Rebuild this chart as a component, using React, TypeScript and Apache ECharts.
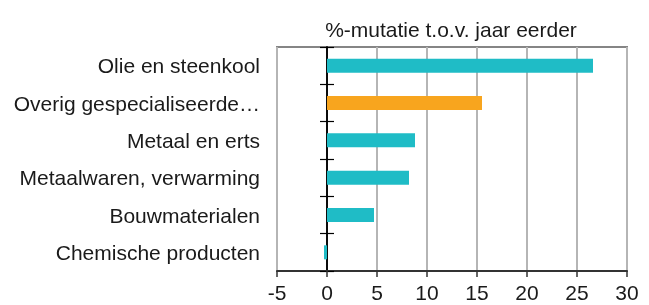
import React, { useEffect, useRef } from "react";
import * as echarts from "echarts";

const categories = [
  "Olie en steenkool",
  "Overig gespecialiseerde…",
  "Metaal en erts",
  "Metaalwaren, verwarming",
  "Bouwmaterialen",
  "Chemische producten",
];
const values = [26.6, 15.5, 8.8, 8.2, 4.7, -0.3];
const barColors = ["#1fbcc6", "#f8a51e", "#1fbcc6", "#1fbcc6", "#1fbcc6", "#1fbcc6"];
const subtitle = "%-mutatie t.o.v. jaar eerder";
const xMin = -5;
const xMax = 30;
const xStep = 5;

const FONT = "'Liberation Sans', Arial, sans-serif";

export default function App() {
  const ref = useRef<HTMLDivElement>(null);
  useEffect(() => {
    if (!ref.current) return;
    const chart = echarts.init(ref.current, null, { renderer: "svg" });
    const zeroAxisBase = {
      type: "category" as const,
      data: categories,
      inverse: true,
      position: "left" as const,
      axisLabel: { show: false },
      splitLine: { show: false },
      axisLine: {
        show: true,
        onZero: true,
        onZeroAxisIndex: 0,
        lineStyle: { color: "#000", width: 1.5 },
      },
    };
    chart.setOption({
      animation: false,
      textStyle: { fontFamily: FONT },
      title: {
        text: subtitle,
        left: 446,
        top: 24,
        textAlign: "center",
        textVerticalAlign: "middle",
        textStyle: { fontSize: 21, fontWeight: "normal", color: "#1a1a1a", fontFamily: FONT },
      },
      grid: {
        left: 277,
        right: 22,
        top: 47,
        bottom: 34,
        show: true,
        borderColor: "#858585",
        borderWidth: 2,
        backgroundColor: "transparent",
      },
      xAxis: {
        type: "value",
        min: xMin,
        max: xMax,
        interval: xStep,
        axisLine: { show: true, onZero: false, lineStyle: { color: "#333", width: 2 } },
        axisTick: { show: true, length: 6, lineStyle: { color: "#333", width: 1.5 } },
        splitLine: { show: true, lineStyle: { color: "#b5b5b5", width: 2 } },
        axisLabel: { fontSize: 21, color: "#1a1a1a", margin: 11, fontFamily: FONT },
      },
      yAxis: [
        {
          type: "category",
          data: categories,
          inverse: true,
          position: "left",
          axisLine: { show: false, onZero: false },
          axisTick: { show: false },
          splitLine: { show: false },
          axisLabel: { fontSize: 21, color: "#1a1a1a", margin: 17, fontFamily: FONT },
        },
        {
          ...zeroAxisBase,
          axisTick: { show: true, inside: false, length: 7, lineStyle: { color: "#000", width: 1.2 } },
        },
        {
          ...zeroAxisBase,
          axisTick: { show: true, inside: true, length: 7, lineStyle: { color: "#000", width: 1.2 } },
        },
      ],
      series: [
        {
          type: "bar",
          yAxisIndex: 0,
          barWidth: 14,
          z: 1,
          data: values.map((v, i) => ({ value: v, itemStyle: { color: barColors[i] } })),
        },
      ],
    });
    return () => chart.dispose();
  }, []);
  return (
    <div
      ref={ref}
      style={{ position: "fixed", left: 0, top: 0, width: 649, height: 305 }}
    />
  );
}
